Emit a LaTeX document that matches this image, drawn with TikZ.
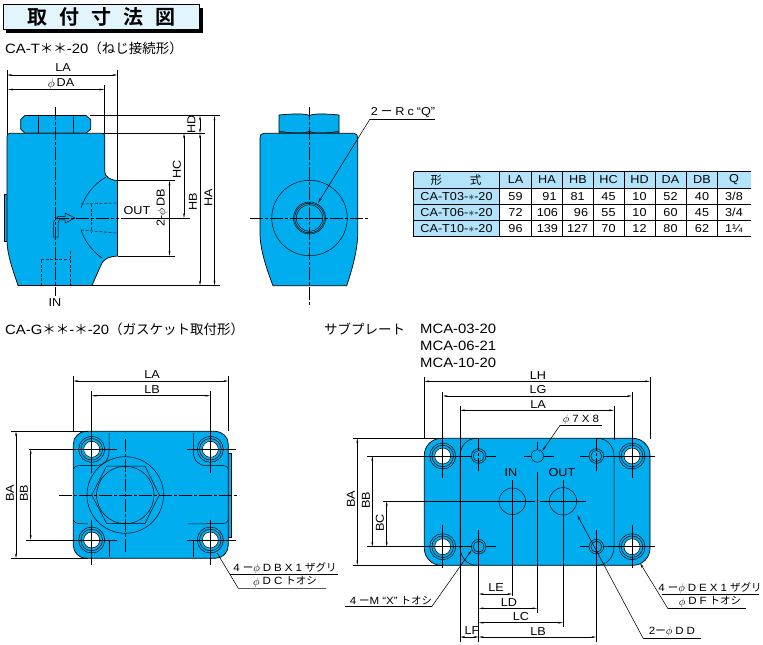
\documentclass[tikz,border=0pt]{standalone}
\usepackage{fontspec}
\setmainfont{Liberation Sans}[FakeStretch=1.1]
\newfontfamily\cjk{Noto Sans CJK JP}[BoldFont={* Bold}]
\usetikzlibrary{arrows.meta}

\definecolor{bodyblue}{HTML}{00AEEF}
\definecolor{headblue}{HTML}{B3E3FA}
\definecolor{titleblue}{HTML}{E2F5FD}
\newcommand*{\dia}{\raisebox{-.5pt}{$\phi$}}
\newcommand*{\gap}{\hspace{3pt}}

\tikzset{
  body/.style={fill=bodyblue, draw=black, line width=.7pt},
  edge/.style={draw=black, line width=.5pt},
  extline/.style={draw=black, line width=.75pt},
  centerline/.style={draw=black, line width=.75pt, dash pattern=on 13pt off 2pt on 3pt off 2pt},
  hidden/.style={draw=black!85, line width=.6pt, dash pattern=on 3pt off 1.6pt},
  dimline/.style={draw=black, line width=.45pt, {Stealth[length=5pt,width=1.8pt]}-{Stealth[length=5pt,width=1.8pt]}},
  leader/.style={draw=black, line width=.55pt, -{Stealth[length=5pt,width=2pt]}},
  plainleader/.style={draw=black, line width=.55pt},
  dimtext/.style={font=\fontsize{11.5}{11.5}\selectfont, inner sep=0pt},
  notetext/.style={font=\fontsize{10.5}{10.5}\selectfont, inner sep=0pt},
  headtext/.style={font=\fontsize{13.5}{13.5}\selectfont, inner sep=0pt, anchor=west},
  celltext/.style={font=\fontsize{11.5}{11.5}\selectfont, inner sep=0pt},
}

% x1/y1/x2/y2 lists, all in reference pixels
\newcommand*{\ExtLines}[1]{%
  \foreach \xa/\ya/\xb/\yb in {#1} {
    \draw[extline] (\xa,\ya) -- (\xb,\yb);
  }%
}
\newcommand*{\DimLines}[1]{%
  \foreach \xa/\ya/\xb/\yb in {#1} {
    \draw[dimline] (\xa,\ya) -- (\xb,\yb);
  }%
}
\newcommand*{\CenterLines}[1]{%
  \foreach \xa/\ya/\xb/\yb in {#1} {
    \draw[centerline] (\xa,\ya) -- (\xb,\yb);
  }%
}
\newcommand*{\HiddenLines}[1]{%
  \foreach \xa/\ya/\xb/\yb in {#1} {
    \draw[hidden] (\xa,\ya) -- (\xb,\yb);
  }%
}
% name/x/y/rotation/text
\newcommand*{\DimLabels}[1]{%
  \foreach \n/\x/\y/\r/\t in {#1} {
    \node[dimtext, rotate=\r] (\n) at (\x,\y) {\t};
  }%
}
% x/y of a mounting hole: white bore and two rings
\newcommand*{\BoreHoles}[1]{%
  \foreach \x/\y in {#1} {
    \draw[edge] (\x,\y) circle[radius=13];
    \draw[edge] (\x,\y) circle[radius=10.8];
    \draw[edge, fill=white] (\x,\y) circle[radius=8];
  }%
}
% one line of the table: name, y, then x/text
\newcommand*{\TableRow}[3]{%
  \foreach \x/\t [count=\c] in {#3} {
    \node[celltext] (#1-\c) at (\x,#2) {\t};
  }%
}

\begin{document}
\begin{tikzpicture}[x=1pt,y=-1pt]
  \useasboundingbox (0,0) rectangle (763,645);

  % title
  \fill[black] (6,8) rectangle (202.7,32.7);
  \draw[fill=titleblue, draw=black, line width=.8pt] (3.3,4.3) rectangle (199,29.3);
  \node[inner sep=0pt, font=\fontsize{20}{20}\selectfont\cjk\bfseries] (title) at (101.5,17)
    {取\hspace{12pt}付\hspace{12pt}寸\hspace{12pt}法\hspace{12pt}図};

  % headings
  \node[headtext] (headT) at (5,48.5) {CA-T{\cjk ＊＊}-20{\cjk （ねじ接続形）}};
  \node[headtext] (headG) at (5,329) {CA-G{\cjk ＊＊}-{\cjk ＊}-20{\cjk （ガスケット取付形）}};
  \node[headtext] (headS) at (324,329) {\cjk サブプレート};
  \node[headtext] (mca03) at (420,329) {MCA-03-20};
  \node[headtext] (mca06) at (420,346) {MCA-06-21};
  \node[headtext] (mca10) at (420,363) {MCA-10-20};

  %%%% threaded body, front
  \fill[bodyblue] (4.5,194) rectangle (7,241);
  \draw[edge] (7,194) -- (4.5,194) -- (4.5,241) -- (7,241);
  \draw[body] (38,115.5) -- (73,115.5) -- (86,115.5) -- (90.7,119.5) -- (90.7,129) -- (86,133.3)
    -- (25,133.3) -- (20.7,129) -- (20.7,119.5) -- (25,115.5) -- cycle;
  \draw[edge] (38.3,116.5) -- (38.3,132.5) (73.3,116.5) -- (73.3,132.5);
  \draw[body] (7,137) .. controls (7,134.5) and (8,133.3) .. (10,133.3) -- (102,133.3)
    .. controls (104,133.3) and (104.8,134.5) .. (104.8,137) -- (104.8,172)
    .. controls (105,176) and (109,180) .. (117.5,180.5) -- (117.5,256)
    .. controls (110,256.5) and (104,258) .. (101,265) -- (92,285.5) -- (18,285.5)
    .. controls (13,270) and (7,255) .. (7,240) -- cycle;
  \draw[edge] (106,177) .. controls (94,184) and (85,195) .. (81,208);
  \draw[edge] (81,230) .. controls (84,240) and (92,251) .. (102,258);
  \HiddenLines{81/204/116/203, 81/230/116/233, 91.5/204/91.5/232, 41/260/41/285, 70/251/70/285, 41/259/70/259}
  % flow arrow
  \draw[edge, fill=bodyblue] (53.5,237) -- (53.5,222) -- (58,216.5) -- (65,216.5) -- (65,213) -- (75,218)
    -- (65,223) -- (65,219.8) -- (59.5,219.8) -- (58,222.5) -- (58,237) -- cycle;

  %%%% threaded body, side
  \draw[body] (279,115) .. controls (295,113.5) and (305,113.5) .. (309.5,115.5)
    .. controls (314,113.5) and (324,113.5) .. (339,115) -- (339,133)
    -- (279,133) -- cycle;
  \draw[edge] (279,131) .. controls (295,134) and (305,134) .. (309.5,131)
    .. controls (314,134) and (324,134) .. (339,131);
  \draw[body] (260,138) .. controls (260,135) and (261,133.3) .. (264,133.3) -- (354,133.3)
    .. controls (356.5,133.3) and (357.7,135) .. (357.7,138) -- (357.7,233)
    .. controls (357.7,250) and (352,270) .. (346.7,285.7) -- (273,285.7)
    .. controls (267,270) and (260,250) .. (260,233) -- cycle;
  \draw[edge] (309.5,218) circle[radius=37.7];
  \draw[edge] (309.5,218) circle[radius=16];
  \draw[edge] (309.5,218) circle[radius=14.8];
  \draw[edge] (309.5,218) circle[radius=13.2];

  %%%% gasket body
  \fill[bodyblue] (228.3,453) rectangle (231,537);
  \draw[edge] (228.3,453) -- (231,453) -- (231,537) -- (228.3,537);
  \draw[body, rounded corners=13pt] (73.3,431.3) rectangle (228.3,558.3);
  \draw[edge] (109,433) -- (109,451) .. controls (109,460) and (104,465.5) .. (96,465.5) -- (79,465.5)
    .. controls (76,465.5) and (74.5,467) .. (73.3,469);
  \draw[edge] (193.3,433) -- (193.3,451) .. controls (193.3,460) and (198,465.5) .. (206,465.5) -- (223,465.5)
    .. controls (226,465.5) and (227.5,467) .. (228.3,469);
  \draw[edge] (73.3,520) .. controls (74.5,522.5) and (76,523.5) .. (79,523.5) -- (88,524);
  \draw[edge] (228.3,520) .. controls (227,522.5) and (226,523.5) .. (223,523.5) -- (188,524);
  \draw[edge] (109,540) -- (109,557) (193.3,540) -- (193.3,557);
  \BoreHoles{91.7/449.3, 210.3/449.3, 91.7/540, 210.3/540}
  \draw[edge] (125.3,495) circle[radius=38.3];
  \draw[edge] (125.3,495) circle[radius=28.7];
  \draw[edge, line join=round] (91.7,495) -- (106.7,466) -- (145,466)
    -- (159.3,495) -- (145,523.5) -- (106.7,523.5) -- cycle;

  %%%% sub plate
  \draw[body, rounded corners=17pt] (424.3,438.3) rectangle (650,565.3);
  \draw[edge] (477,438.3) .. controls (467,438.3) and (460,446) .. (460,456) -- (460,546.7)
    .. controls (460,557) and (467,565.3) .. (477,565.3);
  \draw[edge] (597,438.3) .. controls (607,438.3) and (614,446) .. (614,456) -- (614,546.7)
    .. controls (614,557) and (607,565.3) .. (597,565.3);
  \BoreHoles{442.7/456, 632/456, 442.7/546.7, 632/546.7}
  \foreach \x/\y in {478.7/456, 596.3/456, 478.7/546.7, 596.3/546.7} {
    \draw[edge] (\x,\y) circle[radius=7.3];
    \draw[edge] (\x,\y) circle[radius=5.5];
  }
  \draw[edge] (537.3,456) circle[radius=6.2];
  \draw[edge] (512.3,501.3) circle[radius=13.3];
  \draw[edge] (563,501.3) circle[radius=13.7];

  %%%% centre lines
  \CenterLines{55.5/107/55.5/296, 55.5/218/119/218, 309.5/107/309.5/307, 250/218/368/218,
    59/495/239/495, 125.3/439/125.3/552,
    478.7/438/478.7/473, 596.3/438/596.3/473}
  \HiddenLines{512.3/488/512.3/515, 563/488/563/515, 500/501.3/525/501.3, 550/501.3/576/501.3}

  %%%% extension lines
  \ExtLines{7/70/7/134, 117.5/70/117.5/181, 104.5/85/104.5/134, 90/115.5/220/115.5, 92/285.5/220/285.5,
    103/133.3/205/133.3, 118/180.5/175/180.5, 118/256/175/256, 121/218/190/218,
    73.3/376/73.3/431, 228.3/376/228.3/431, 91.7/391/91.7/473, 210.3/391/210.3/473,
    91.7/520/91.7/565, 210.3/520/210.3/565, 29/449.3/116.7/449.3, 187/449.3/236/449.3,
    26/540/116.7/540, 187/540/236/540, 11/431.3/88/431.3, 11/558.3/88/558.3,
    424.3/377/424.3/439, 650/377/650/439, 442.7/391.7/442.7/478, 632/391.7/632/478,
    442.7/525/442.7/568, 632/525/632/568, 460/406/460/641.7, 614/406/614/440,
    353/438.3/442/438.3, 353/565.3/442/565.3, 367/456/472/456, 486/456/495.7/456,
    367/546.7/472/546.7, 486/546.7/495.7/546.7, 382.7/501.3/535/501.3, 540/501.3/586/501.3,
    580/456/589/456, 603/456/655/456, 580/546.7/589/546.7, 603/546.7/655/546.7,
    524/456/531/456, 544/456/554/456, 478.7/530/478.7/641.7, 596.3/530/596.3/641.7,
    537.3/441.7/537.3/450, 537.3/472/537.3/612.7,
    512.3/480/512.3/596, 563/480/563/626.7}

  %%%% dimension lines
  \DimLines{7/75/117.5/75, 8/89.5/104.5/89.5, 200/115.5/200/133.3, 184/133.3/184/218,
    200/133.3/200/285.5, 214.5/115.5/214.5/285.5, 169.5/180.5/169.5/256,
    73.3/381/228.3/381, 91.7/395.7/210.3/395.7, 16/431.3/16/558.3, 30.7/449.3/30.7/540,
    424.3/381.3/650/381.3, 442.7/396/632/396, 460/410.3/614/410.3, 357.3/438.3/357.3/565.3,
    372.3/456/372.3/546.7, 386.7/501.3/386.7/546.7, 478.7/594/512.3/594, 478.7/608.3/537.3/608.3,
    478.7/622.7/563/622.7, 478.7/637/596.3/637, 460/637/478.7/637}

  %%%% labels
  \DimLabels{
    laT/63/68/0/LA, daT/61/84/0/{\dia\,DA}, hdT/191.5/124/90/HD, hcT/177/169/90/HC,
    hbT/193/202/90/HB, haT/208.5/198/90/HA, dbT/162/208/90/{2-\dia\,DB},
    outT/137/211/0/OUT, inT/55/303/0/IN,
    laG/152/375/0/LA, lbG/152/390/0/LB, baG/10/493/90/BA, bbG/24/493/90/BB,
    lhS/538/376/0/LH, lgS/538/390/0/LG, laS/538/405/0/LA, baS/351/499/90/BA, bbS/366/500/90/BB,
    bcS/380/523/90/BC, leS/496/588/0/LE, ldS/509/603/0/LD, lcS/521/617/0/LC, lbS/538/632/0/LB,
    lfS/472/631/0/LF, inS/511/473/0/IN, outS/562/473/0/OUT
  }
  \node[dimtext] (rcQ) at (403,113) {2\gap{\cjk ー}\gap R\gap c\gap “Q”};
  \node[notetext] (dbG) at (285,568) {4\gap{\cjk ー}\dia\gap D\gap B\gap X\gap 1\gap{\cjk ザグリ}};
  \node[notetext] (dcG) at (285,582) {\dia\gap D\gap C\gap{\cjk トオシ}};
  \node[notetext] (d7S) at (581,420) {\dia\gap 7\gap X\gap 8};
  \node[notetext] (mxS) at (391,601) {4\gap{\cjk ー}M\gap “X”\gap{\cjk トオシ}};
  \node[notetext] (ddS) at (672,632) {2{\cjk ー}\dia\gap D\gap D};
  \node[notetext] (deS) at (710,588) {4\gap{\cjk ー}\dia\gap D\gap E\gap X\gap 1\gap{\cjk ザグリ}};
  \node[notetext] (dfS) at (710,602) {\dia\gap D\gap F\gap{\cjk トオシ}};

  %%%% leaders
  \draw[leader] (370,119) -- (318,203);
  \draw[plainleader] (370,119) -- (435,119);
  \draw[plainleader] (217.3,553.3) -- (238.3,588.3) -- (326,588.3);
  \draw[plainleader] (230,574) -- (338,574);
  \draw[leader] (560,425.3) -- (542.3,451);
  \draw[plainleader] (560,425.3) -- (601.7,425.3);
  \draw[leader] (431.7,606.7) -- (471.7,550);
  \draw[plainleader] (345,606.7) -- (431.7,606.7);
  \draw[leader] (643,638) -- (577.3,515);
  \draw[plainleader] (643,638) -- (700.7,638);
  \draw[leader] (668,608.7) -- (640,563);
  \draw[plainleader] (668,608.7) -- (745.7,608.7);
  \draw[plainleader] (661.7,594) -- (759,594);

  %%%% table
  \fill[headblue] (413.5,171.7) rectangle (750.7,188);
  \fill[headblue] (413.5,188) rectangle (499.3,236.7);
  \foreach \x in {413.5,499.3,531.7,562.7,593,624.3,655,686,717.7} {
    \draw[draw=black, line width=.5pt] (\x,171.7) -- (\x,236.7);
  }
  \foreach \y in {188,204.3,220} {
    \draw[draw=black, line width=.5pt] (413.5,\y) -- (750.7,\y);
  }
  \draw[draw=black, line width=.9pt] (413.5,171.7) -- (750.7,171.7);
  \draw[draw=black, line width=.9pt] (413.5,236.7) -- (750.7,236.7);
  \TableRow{head}{180}{456/{\cjk 形\hspace{28pt}式}, 515.5/LA, 547/HA, 578/HB, 608.5/HC, 639.5/HD, 670.5/DA, 702/DB, 734/Q}
  \TableRow{tc03}{196.2}{456.5/CA-T03-$*$-20, 515.5/59, 549.5/91, 577.7/81, 608.5/45, 639.5/10, 670.5/52, 702/40, 734/{3/8}}
  \TableRow{tc06}{212.2}{456.5/CA-T06-$*$-20, 515.5/72, 547.3/106, 581/96, 608.5/55, 639.5/10, 670.5/60, 702/45, 734/{3/4}}
  \TableRow{tc10}{228.2}{456.5/CA-T10-$*$-20, 515.5/96, 547.3/139, 577.7/127, 608.5/70, 639.5/12, 670.5/80, 702/62, 734/1¼}
\end{tikzpicture}
\end{document}
